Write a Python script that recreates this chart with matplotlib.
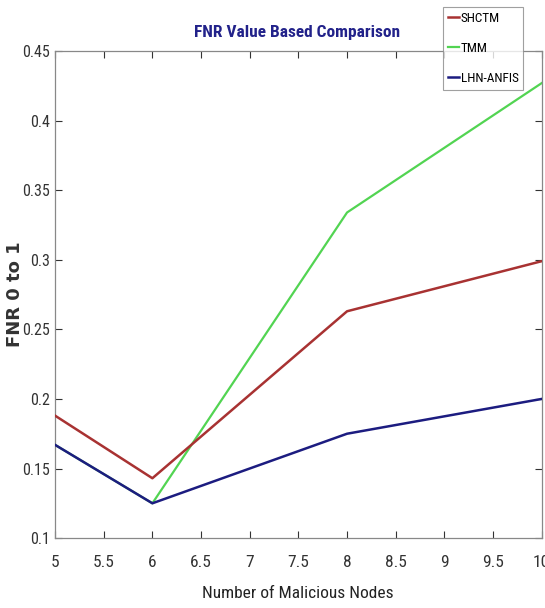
import matplotlib
matplotlib.use("Agg")
import matplotlib.pyplot as plt

x_nodes = [5, 6, 8, 10]
shctm = [0.188, 0.143, 0.263, 0.299]
tmm = [0.167, 0.125, 0.334, 0.427]
lhn_anfis = [0.167, 0.125, 0.175, 0.200]
series_names = ["SHCTM", "TMM", "LHN-ANFIS"]
x_ticks = [5, 5.5, 6, 6.5, 7, 7.5, 8, 8.5, 9, 9.5, 10]
y_ticks = [0.1, 0.15, 0.2, 0.25, 0.3, 0.35, 0.4, 0.45]

narrow = ["Roboto Condensed", "Liberation Sans", "DejaVu Sans"]

fig = plt.figure(figsize=(5.45, 6.08), dpi=100)
ax = fig.add_axes([0.101, 0.115, 0.893, 0.801])

ax.plot(x_nodes, tmm, color="#52d452", lw=1.6, label=series_names[1], zorder=2)
ax.plot(x_nodes, shctm, color="#a83232", lw=1.8, label=series_names[0], zorder=3)
ax.plot(x_nodes, lhn_anfis, color="#1c1c80", lw=1.8, label=series_names[2], zorder=4)

ax.set_xlim(5, 10)
ax.set_ylim(0.1, 0.45)
ax.set_xticks(x_ticks)
ax.set_xticklabels([("%g" % v) for v in x_ticks])
ax.set_yticks(y_ticks)
ax.set_yticklabels([("%g" % v) for v in y_ticks])
ax.tick_params(direction="in", top=True, right=True, length=5, width=0.8,
               colors="#333333")
ax.tick_params(axis="x", labelsize=12.5, pad=12)
ax.tick_params(axis="y", labelsize=11.5, pad=3.5)
for lbl in ax.get_xticklabels() + ax.get_yticklabels():
    lbl.set_family(narrow)
for s in ax.spines.values():
    s.set_color("#888888")
    s.set_linewidth(0.9)

fig.text(298 / 545, 1 - 593 / 608, "Number of Malicious Nodes", family=narrow,
         fontsize=12.5, color="#222222", ha="center", va="center")
fig.text(15 / 545, 1 - 294 / 608, "FNR 0 to 1", family=["DejaVu Sans"],
         fontsize=13, fontweight="bold", color="#333333", rotation=90,
         ha="center", va="center")
fig.text(297 / 545, 1 - 32 / 608, "FNR Value Based Comparison", family=narrow,
         fontsize=12.5, fontweight="bold", color="#22228a", ha="center", va="center")

handles, labels = ax.get_legend_handles_labels()
order = [labels.index(n) for n in series_names]
leg = fig.legend([handles[i] for i in order], [labels[i] for i in order],
                 loc="upper left", bbox_to_anchor=(443 / 545, 1 - 7 / 608),
                 prop={"family": narrow, "size": 9.5}, frameon=True,
                 fancybox=False, edgecolor="#888888", handlelength=0.9,
                 handletextpad=0.1, borderpad=0.35, labelspacing=1.3,
                 borderaxespad=0.0)
leg.get_frame().set_linewidth(0.8)

fig.savefig("out.png", dpi=100)
